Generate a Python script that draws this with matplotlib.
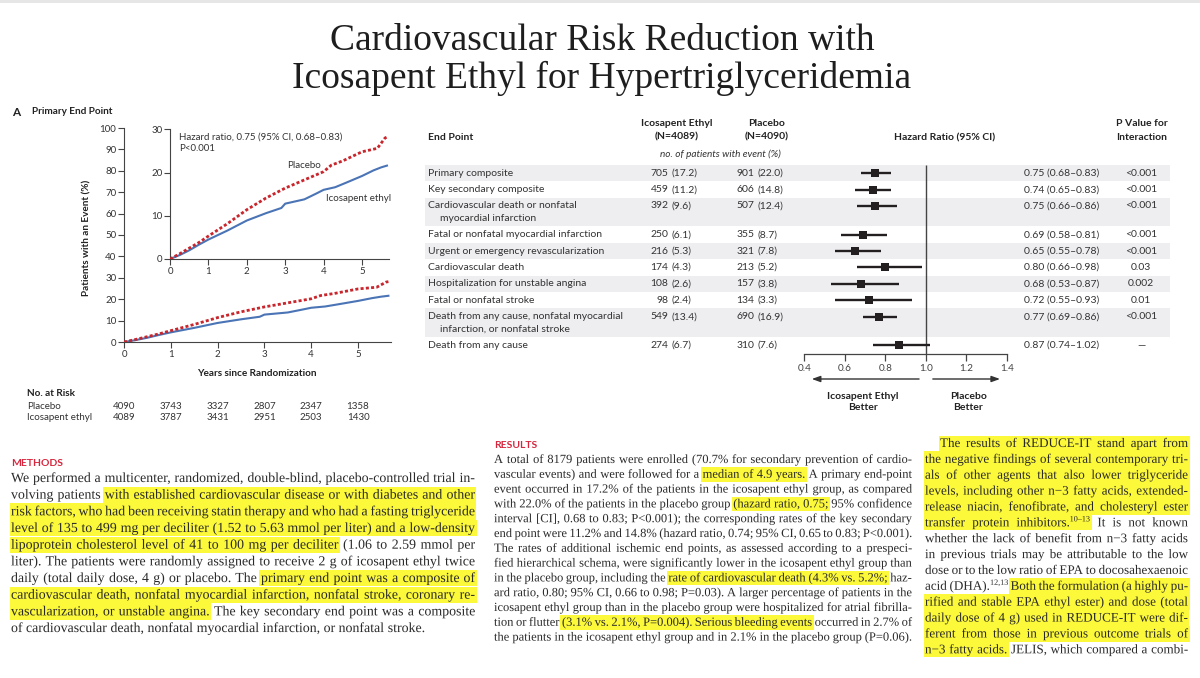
import matplotlib
matplotlib.use('Agg')
import matplotlib.pyplot as plt
import matplotlib.patheffects as pe
from matplotlib.patches import Rectangle
from matplotlib.transforms import blended_transform_factory

W, H = 1200, 678
SANS = 'Lato'
SERIF = 'Liberation Serif'
INK = '#333333'
RED = '#c8262c'
BLUE = '#4a74b5'
YELLOW = '#fcf83a'

# Kaplan-Meier curves (years, % of patients with an event)
PLACEBO_T = [0, 0.25, 0.5, 0.75, 1.0, 1.5, 2.0, 2.5, 3.0, 3.5, 4.0, 4.2, 4.5, 5.0, 5.4, 5.5, 5.6, 5.65]
PLACEBO_Y = [0, 1.2, 2.5, 3.8, 5.3, 8.2, 11.4, 14.1, 16.4, 18.3, 20.2, 21.7, 22.7, 24.8, 25.6, 26.8, 28.0, 28.2]
ICOSA_T = [0, 0.25, 0.5, 0.75, 1.0, 1.5, 2.0, 2.5, 2.9, 3.0, 3.5, 3.8, 4.0, 4.3, 4.6, 5.0, 5.3, 5.5, 5.65]
ICOSA_Y = [0, 0.9, 2.0, 3.3, 4.5, 6.6, 8.9, 10.6, 11.8, 12.8, 13.8, 15.1, 16.0, 16.6, 17.7, 19.2, 20.5, 21.2, 21.6]

RISK_YEARS = [0, 1, 2, 3, 4, 5]
RISK_PLACEBO = [4090, 3743, 3327, 2807, 2347, 1358]
RISK_ICOSA = [4089, 3787, 3431, 2951, 2503, 1430]

# forest plot table
ENDPOINTS = ['Primary composite', 'Key secondary composite',
             'Cardiovascular death or nonfatal\nmyocardial infarction',
             'Fatal or nonfatal myocardial infarction', 'Urgent or emergency revascularization',
             'Cardiovascular death', 'Hospitalization for unstable angina', 'Fatal or nonfatal stroke',
             'Death from any cause, nonfatal myocardial\ninfarction, or nonfatal stroke',
             'Death from any cause']
ICOSA_N = [705, 459, 392, 250, 216, 174, 108, 98, 549, 274]
ICOSA_PCT = ['17.2', '11.2', '9.6', '6.1', '5.3', '4.3', '2.6', '2.4', '13.4', '6.7']
PLACEBO_N = [901, 606, 507, 355, 321, 213, 157, 134, 690, 310]
PLACEBO_PCT = ['22.0', '14.8', '12.4', '8.7', '7.8', '5.2', '3.8', '3.3', '16.9', '7.6']
HR = [0.75, 0.74, 0.75, 0.69, 0.65, 0.80, 0.68, 0.72, 0.77, 0.87]
HR_LO = [0.68, 0.65, 0.66, 0.58, 0.55, 0.66, 0.53, 0.55, 0.69, 0.74]
HR_HI = [0.83, 0.83, 0.86, 0.81, 0.78, 0.98, 0.87, 0.93, 0.86, 1.02]
P_INT = ['<0.001', '<0.001', '<0.001', '<0.001', '<0.001', '0.03', '0.002', '0.01', '<0.001', '\u2014']
HR_TICKS = [0.4, 0.6, 0.8, 1.0, 1.2, 1.4]

# body text; {...} marks highlighted words, ^ starts a superscript
METHODS = [
    'We performed a multicenter, randomized, double-blind, placebo-controlled trial in-',
    'volving patients {with established cardiovascular disease or with diabetes and other',
    'risk factors, who had been receiving statin therapy and who had a fasting triglyceride',
    'level of 135 to 499 mg per deciliter (1.52 to 5.63 mmol per liter) and a low-density',
    'lipoprotein cholesterol level of 41 to 100 mg per deciliter} (1.06 to 2.59 mmol per',
    'liter). The patients were randomly assigned to receive 2 g of icosapent ethyl twice',
    'daily (total daily dose, 4 g) or placebo. The {primary end point was a composite of',
    'cardiovascular death, nonfatal myocardial infarction, nonfatal stroke, coronary re-',
    'vascularization, or unstable angina.} The key secondary end point was a composite',
    'of cardiovascular death, nonfatal myocardial infarction, or nonfatal stroke.',
]
RESULTS = [
    'A total of 8179 patients were enrolled (70.7% for secondary prevention of cardio-',
    'vascular events) and were followed for a {median of 4.9 years.} A primary end-point',
    'event occurred in 17.2% of the patients in the icosapent ethyl group, as compared',
    'with 22.0% of the patients in the placebo group {(hazard ratio, 0.75;} 95% confidence',
    'interval [CI], 0.68 to 0.83; P<0.001); the corresponding rates of the key secondary',
    'end point were 11.2% and 14.8% (hazard ratio, 0.74; 95% CI, 0.65 to 0.83; P<0.001).',
    'The rates of additional ischemic end points, as assessed according to a prespeci-',
    'fied hierarchical schema, were significantly lower in the icosapent ethyl group than',
    'in the placebo group, including the {rate of cardiovascular death (4.3% vs. 5.2%;} haz-',
    'ard ratio, 0.80; 95% CI, 0.66 to 0.98; P=0.03). A larger percentage of patients in the',
    'icosapent ethyl group than in the placebo group were hospitalized for atrial fibrilla-',
    'tion or flutter {(3.1% vs. 2.1%, P=0.004).} {Serious bleeding events} occurred in 2.7% of',
    'the patients in the icosapent ethyl group and in 2.1% in the placebo group (P=0.06).',
]
DISCUSSION = [
    '{The results of REDUCE-IT stand apart from',
    'the negative findings of several contemporary tri-',
    'als of other agents that also lower triglyceride',
    'levels, including other n\u22123 fatty acids, extended-',
    'release niacin, fenofibrate, and cholesteryl ester',
    'transfer protein inhibitors.^10\u201313} It is not known',
    'whether the lack of benefit from n\u22123 fatty acids',
    'in previous trials may be attributable to the low',
    'dose or to the low ratio of EPA to docosahexaenoic',
    'acid (DHA).^12,13 {Both the formulation (a highly pu-',
    'rified and stable EPA ethyl ester) and dose (total',
    'daily dose of 4 g) used in REDUCE-IT were dif-',
    'ferent from those in previous outcome trials of',
    'n\u22123 fatty acids.} JELIS, which compared a combi-',
]

fig = plt.figure(figsize=(W / 100, H / 100), dpi=100)
fig.patch.set_facecolor('white')

# full-figure overlay in pixel units (y downwards) for page text
ov = fig.add_axes([0, 0, 1, 1], zorder=0)
ov.set_xlim(0, W)
ov.set_ylim(H, 0)
ov.axis('off')
renderer = fig.canvas.get_renderer()


def px_axes(l, t, r, b):
    a = fig.add_axes([l / W, 1 - b / H, (r - l) / W, (b - t) / H], zorder=2)
    a.patch.set_alpha(0)
    return a


ov.add_patch(Rectangle((0, 0), W, 3, color='#e6e6e6', lw=0))

# title
ov.text(602, 41, 'Cardiovascular Risk Reduction with', ha='center', va='center',
        family=SERIF, fontsize=27, color='#1e1e1e')
ov.text(602, 78, 'Icosapent Ethyl for Hypertriglyceridemia', ha='center', va='center',
        family=SERIF, fontsize=27, color='#1e1e1e')

# ---- Kaplan-Meier panel ----
ov.text(12, 112, 'A', family=SANS, fontsize=8.5, fontweight='bold', color='#222', va='center')
ov.text(32, 112, 'Primary End Point', family=SANS, fontsize=7.2, fontweight='bold', color='#222', va='center')

km = px_axes(124, 128, 124 + 5.7 * 46.8, 342)
ins = px_axes(170, 129.3, 170 + 5.7 * 38.4, 259)
for a, ymax, step in [(km, 100, 10), (ins, 30, 10)]:
    a.plot(PLACEBO_T, PLACEBO_Y, color=RED, lw=2.0, ls=(0, (1.1, 0.8)), zorder=3)
    a.plot(ICOSA_T, ICOSA_Y, color=BLUE, lw=1.5, zorder=2)
    a.set_xlim(0, 5.7)
    a.set_ylim(0, ymax)
    a.set_xticks(RISK_YEARS)
    a.set_yticks(range(0, ymax + 1, step))
    for s in ['top', 'right']:
        a.spines[s].set_visible(False)
    for s in ['left', 'bottom']:
        a.spines[s].set_color('#444')
        a.spines[s].set_linewidth(0.8)
    a.tick_params(length=4, width=0.8, color='#444', labelsize=7, labelcolor=INK, pad=1.5)
    for lbl in a.get_xticklabels() + a.get_yticklabels():
        lbl.set_family(SANS)

ins.text(0.24, 29.2, 'Hazard ratio, 0.75 (95% CI, 0.68\u20130.83)\nP<0.001', family=SANS,
         fontsize=7, color=INK, va='top', linespacing=1.35)
ins.text(3.05, 21.7, 'Placebo', family=SANS, fontsize=7, color=INK, va='center')
ins.text(4.05, 14.1, 'Icosapent ethyl', family=SANS, fontsize=7, color=INK, va='center')

ov.text(87, 238, 'Patients with an Event (%)', rotation=90, ha='center', va='center',
        family=SANS, fontsize=7.2, fontweight='bold', color='#222')
ov.text(257, 373, 'Years since Randomization', ha='center', va='center',
        family=SANS, fontsize=7.2, fontweight='bold', color='#222')

risk_tr = blended_transform_factory(km.transData, ov.transData)
ov.text(27, 394, 'No. at Risk', family=SANS, fontsize=7.2, fontweight='bold', color='#222', va='center')
for lab, vals, y in [('Placebo', RISK_PLACEBO, 406.5), ('Icosapent ethyl', RISK_ICOSA, 417.5)]:
    ov.text(27, y, lab, family=SANS, fontsize=7, color=INK, va='center')
    for yr, v in zip(RISK_YEARS, vals):
        ov.text(yr, y, str(v), transform=risk_tr, ha='center', va='center',
                family=SANS, fontsize=7, color=INK)

# ---- forest plot table ----
nlines = [e.count('\n') + 1 for e in ENDPOINTS]
row_h = {1: 16.4, 2: 28.6}
tops = []
top = 165.0
for n in nlines:
    tops.append(top)
    top += row_h[n]
ys = [t + 8.2 for t in tops]

for i, (t, n) in enumerate(zip(tops, nlines)):
    if i % 2 == 0:
        ov.add_patch(Rectangle((425, t), 745, row_h[n], color='#eeeef1', lw=0, zorder=0))

hdr = dict(family=SANS, fontsize=7.5, fontweight='bold', color='#222', va='center')
ov.text(428, 137, 'End Point', **hdr)
ov.text(677, 124, 'Icosapent Ethyl', ha='center', **hdr)
ov.text(677, 137, '(N=4089)', ha='center', **hdr)
ov.text(767, 124, 'Placebo', ha='center', **hdr)
ov.text(767, 137, '(N=4090)', ha='center', **hdr)
ov.text(945, 137.5, 'Hazard Ratio (95% CI)', ha='center', **hdr)
ov.text(1142, 123, 'P Value for', ha='center', **hdr)
ov.text(1142, 137, 'Interaction', ha='center', **hdr)
ov.text(720, 154.5, 'no. of patients with event (%)', ha='center', va='center', family=SANS,
        fontsize=7.2, style='italic', color=INK)

cell = dict(family=SANS, fontsize=7.5, color=INK, va='center')
for i, y in enumerate(ys):
    for k, part in enumerate(ENDPOINTS[i].split('\n')):
        ov.text(428 + (12 if k else 0), y + 12.5 * k, part, **cell)
    ov.text(668.5, y, str(ICOSA_N[i]), ha='right', **cell)
    ov.text(671.5, y, '(' + ICOSA_PCT[i] + ')', ha='left', **cell)
    ov.text(754.5, y, str(PLACEBO_N[i]), ha='right', **cell)
    ov.text(757.5, y, '(' + PLACEBO_PCT[i] + ')', ha='left', **cell)
    ov.text(1024, y, f'{HR[i]:.2f} ({HR_LO[i]:.2f}\u2013{HR_HI[i]:.2f})', ha='left', **cell)
    ov.text(1141, y, P_INT[i], ha='center', **cell)

fp = px_axes(804.3, 160, 1006.7, 354)
fp.set_xlim(HR_TICKS[0], HR_TICKS[-1])
fp.set_ylim(354, 160)
fp.vlines(1.0, tops[0], 354, color='#444', lw=1.0)
fp.hlines(ys, HR_LO, HR_HI, color='#231f20', lw=1.7)
fp.plot(HR, ys, 's', color='#231f20', ms=6.2, mew=0)
for s in ['top', 'right', 'left']:
    fp.spines[s].set_visible(False)
fp.spines['bottom'].set_color('#444')
fp.spines['bottom'].set_linewidth(0.9)
fp.set_yticks([])
fp.set_xticks(HR_TICKS)
fp.set_xticklabels([f'{v:.1f}' for v in HR_TICKS], family=SANS, fontsize=7.2, color='#444')
fp.tick_params(axis='x', length=5, width=0.9, color='#444', pad=2)

arr_tr = blended_transform_factory(fp.transData, ov.transData)
arrow = dict(arrowstyle='-|>,head_length=0.5,head_width=0.18', color='#333', lw=1.0, shrinkA=0, shrinkB=0)
ov.annotate('', xy=(0.437, 379), xytext=(0.967, 379), xycoords=arr_tr, textcoords=arr_tr, arrowprops=arrow)
ov.annotate('', xy=(1.367, 379), xytext=(1.035, 379), xycoords=arr_tr, textcoords=arr_tr, arrowprops=arrow)
ov.text(0.69, 402, 'Icosapent Ethyl\nBetter', transform=arr_tr, ha='center', va='center',
        family=SANS, fontsize=7.5, fontweight='bold', color='#222', linespacing=1.3)
ov.text(1.21, 402, 'Placebo\nBetter', transform=arr_tr, ha='center', va='center',
        family=SANS, fontsize=7.5, fontweight='bold', color='#222', linespacing=1.3)


# ---- justified body text with highlights ----
# path effects draw the glyphs as paths, which keeps word baselines on one line
AS_PATH = [pe.Normal()]


def measure(s, size):
    t = ov.text(0, 0, s, fontsize=size, family=SERIF)
    w = t.get_window_extent(renderer).width
    t.remove()
    return w


def draw_column(lines, x0, x1, base0, dy, target, justify_last=False, indent=0):
    state = False
    parsed = []
    for line in lines:
        items = []
        for w in line.split(' '):
            if w.startswith('{'):
                state = True
                w = w[1:]
            off = w.endswith('}')
            if off:
                w = w[:-1]
            base, _, sup = w.partition('^')
            items.append((base, sup, state))
            if off:
                state = False
        parsed.append(items)
    # widths at 10 pt, scaled linearly afterwards
    w10 = [[measure(b, 10) + (measure(s, 6.2) if s else 0) for b, s, _ in it] for it in parsed]
    sp10 = 0.2 * 10 * 100 / 72
    k = 1.0
    for i, ws in enumerate(w10):
        avail = x1 - x0 - (indent if i == 0 else 0)
        k = min(k, avail / (sum(ws) + (len(ws) - 1) * sp10))
    size = min(target, 10 * k)
    px = size * 100 / 72
    for i, items in enumerate(parsed):
        xs = x0 + (indent if i == 0 else 0)
        widths = [w * size / 10 for w in w10[i]]
        n = len(items)
        last = i == len(parsed) - 1 and not justify_last
        gap = 0.25 * px if (last or n == 1) else (x1 - xs - sum(widths)) / (n - 1)
        yb = base0 + i * dy
        pos = []
        x = xs
        for (b, s, hl), w in zip(items, widths):
            pos.append((x, x + w))
            ov.text(x, yb, b, family=SERIF, fontsize=size, color='#2a2a2a', va='baseline',
                    zorder=3, path_effects=AS_PATH)
            if s:
                ov.text(x + measure(b, size), yb - 0.38 * px, s, family=SERIF, fontsize=size * 0.62,
                        color='#2a2a2a', va='baseline', zorder=3, path_effects=AS_PATH)
            x += w + gap
        j = 0
        while j < n:
            if items[j][2]:
                e = j
                while e + 1 < n and items[e + 1][2]:
                    e += 1
                ov.add_patch(Rectangle((pos[j][0] - 1.5, yb - 0.72 * dy), pos[e][1] - pos[j][0] + 3,
                                       dy * 0.98, color=YELLOW, lw=0, zorder=1))
                j = e + 1
            else:
                j += 1


head = dict(family=SANS, fontsize=7.5, fontweight='bold', color='#d7263d', va='baseline')
ov.text(11, 466, 'METHODS', **head)
ov.text(494, 448.5, 'RESULTS', **head)
draw_column(METHODS, 11, 475, 482, 16.67, 10.5)
draw_column(RESULTS, 494, 912, 463, 14.8, 9.5)
draw_column(DISCUSSION, 925, 1188, 447, 15.87, 10.2, justify_last=True, indent=15)

fig.savefig('out.png', dpi=100, facecolor='white')
